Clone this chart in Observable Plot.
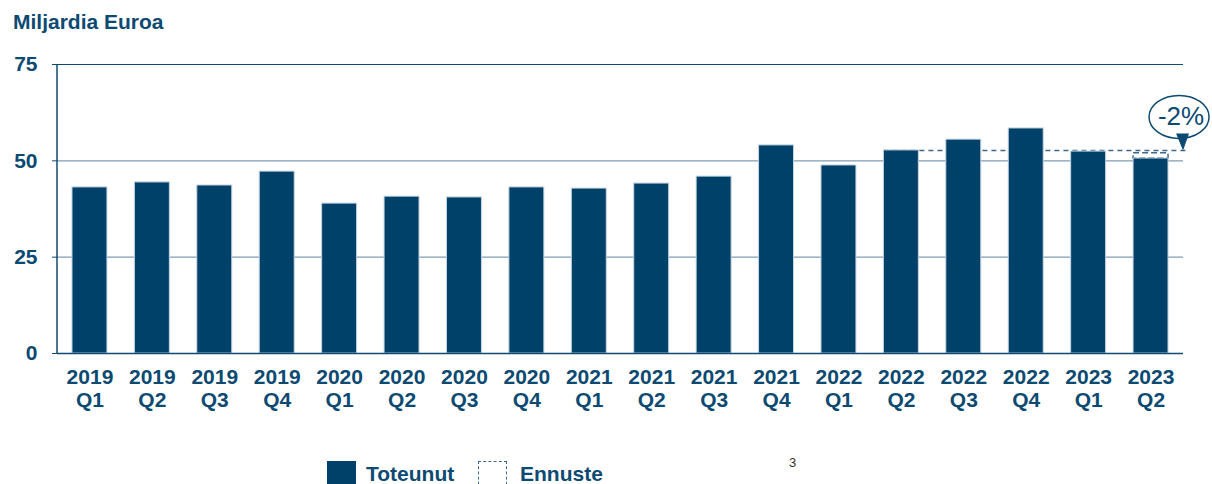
<!DOCTYPE html>
<html><head><meta charset="utf-8">
<script src="https://cdn.jsdelivr.net/npm/d3@7"></script>
<script src="https://cdn.jsdelivr.net/npm/@observablehq/plot@0.6"></script>
<style>
body{margin:0;background:#fff;font-family:"Liberation Sans",Arial,sans-serif;color:#0d4a72;}
#wrap{position:relative;width:1212px;height:484px;overflow:hidden;}
#title{position:absolute;left:13px;top:11px;font-size:21px;line-height:21px;font-weight:bold;white-space:nowrap;}
#chart{position:absolute;left:0;top:0;}
.lg{position:absolute;font-size:21px;line-height:21px;font-weight:bold;white-space:nowrap;}
#sw1{position:absolute;left:327px;top:461px;width:29px;height:29px;background:#00416a;}
#sw2{position:absolute;left:478px;top:461px;width:27px;height:27px;border:1.5px dashed #3d6a8a;}
#page{position:absolute;left:789px;top:456px;font-size:13px;line-height:13px;color:#333;}
</style></head>
<body><div id="wrap">
<div id="title">Miljardia Euroa</div>
<div id="chart"></div>
<div id="sw1"></div><div class="lg" style="left:366px;top:463px">Toteunut</div>
<div id="sw2"></div><div class="lg" style="left:520px;top:463px">Ennuste</div>
<div id="page">3</div>
</div>
<script>
const quarters = ["2019 Q1","2019 Q2","2019 Q3","2019 Q4","2020 Q1","2020 Q2","2020 Q3","2020 Q4",
  "2021 Q1","2021 Q2","2021 Q3","2021 Q4","2022 Q1","2022 Q2","2022 Q3","2022 Q4","2023 Q1","2023 Q2"];
const actual = [43.1,44.4,43.6,47.2,38.9,40.7,40.5,43.1,42.8,44.1,45.9,54.0,48.8,52.7,55.5,58.4,52.4,50.6];
const forecastQuarter = ["2023 Q2"];
const forecastValue = [52.0];
const referenceQuarter = ["2022 Q2"];
const referenceValue = [52.7];
const changeLabel = ["-2%"];
const yTicks = [0, 25, 50, 75];

const dark = "#0d4a72";
const barColor = "#00416a";
const gridColor = "#7f9db5";
const dashColor = "#3d6a8a";

const ellipseSymbol = {
  draw(ctx) {
    const cx = -4, cy = -33.5, rx = 30, ry = 21.5, k = 0.5523;
    ctx.moveTo(cx + rx, cy);
    ctx.bezierCurveTo(cx + rx, cy + ry * k, cx + rx * k, cy + ry, cx, cy + ry);
    ctx.bezierCurveTo(cx - rx * k, cy + ry, cx - rx, cy + ry * k, cx - rx, cy);
    ctx.bezierCurveTo(cx - rx, cy - ry * k, cx - rx * k, cy - ry, cx, cy - ry);
    ctx.bezierCurveTo(cx + rx * k, cy - ry, cx + rx, cy - ry * k, cx + rx, cy);
    ctx.closePath();
  }
};
const pointerSymbol = {
  draw(ctx) {
    ctx.moveTo(-7, -17);
    ctx.lineTo(6, -17);
    ctx.lineTo(0, 0);
    ctx.closePath();
  }
};

function leftAxisLine(...args) {
  const dims = args.find(a => a && a.marginLeft !== undefined);
  const scales = args.find(a => a && typeof a.y === "function");
  const x = dims.marginLeft;
  return d3.create("svg:line")
    .attr("x1", x).attr("x2", x)
    .attr("y1", scales.y(75)).attr("y2", scales.y(0))
    .attr("stroke", dark).attr("stroke-width", 1.5).node();
}

const chart = Plot.plot({
  width: 1212,
  height: 440,
  marginTop: 64,
  marginBottom: 87,
  marginLeft: 57,
  marginRight: 29,
  style: {fontFamily: "'Liberation Sans', Arial, sans-serif", background: "transparent"},
  x: {type: "band", domain: quarters, paddingInner: 0.44, paddingOuter: 0.24, round: false, axis: null},
  y: {domain: [0, 75], axis: null},
  marks: [
    Plot.ruleY([25, 50], {stroke: gridColor, strokeWidth: 1.3}),
    Plot.ruleY([75], {stroke: dark, strokeWidth: 1}),
    Plot.ruleY(referenceValue, {y: d => d, x1: referenceQuarter, x2: forecastQuarter, insetRight: -21,
      stroke: dashColor, strokeWidth: 1.5, strokeDasharray: "5,4"}),
    Plot.barY(forecastValue, {x: forecastQuarter, y1: [actual[actual.length - 1]], y2: d => d, fill: "white",
      stroke: dashColor, strokeWidth: 1.5, strokeDasharray: "6,3"}),
    Plot.barY(quarters, {x: d => d, y: (d, i) => actual[i], fill: barColor, stroke: "#c5d3de", strokeWidth: 1}),
    Plot.ruleY([0], {stroke: dark, strokeWidth: 1.5}),
    leftAxisLine,
    Plot.axisY({ticks: yTicks, tickSize: 5, tickPadding: 15, fontSize: 21, fontWeight: "bold",
      color: dark, stroke: dark}),
    Plot.axisX({tickFormat: d => d.replace(" ", "\n"), tickSize: 0, tickPadding: 14, fontSize: 21,
      fontWeight: "bold", color: dark, lineHeight: 1.1}),
    Plot.dot(changeLabel, {x: forecastQuarter, y: referenceValue, dx: 32, symbol: ellipseSymbol,
      fill: "white", stroke: dark, strokeWidth: 1.5}),
    Plot.dot(changeLabel, {x: forecastQuarter, y: referenceValue, dx: 32, symbol: pointerSymbol,
      fill: dark, stroke: "none"}),
    Plot.text(changeLabel, {x: forecastQuarter, y: referenceValue, text: d => d, dx: 30, dy: -34,
      fontSize: 26, fill: dark})
  ]
});
document.getElementById("chart").appendChild(chart);
</script>
</body></html>
